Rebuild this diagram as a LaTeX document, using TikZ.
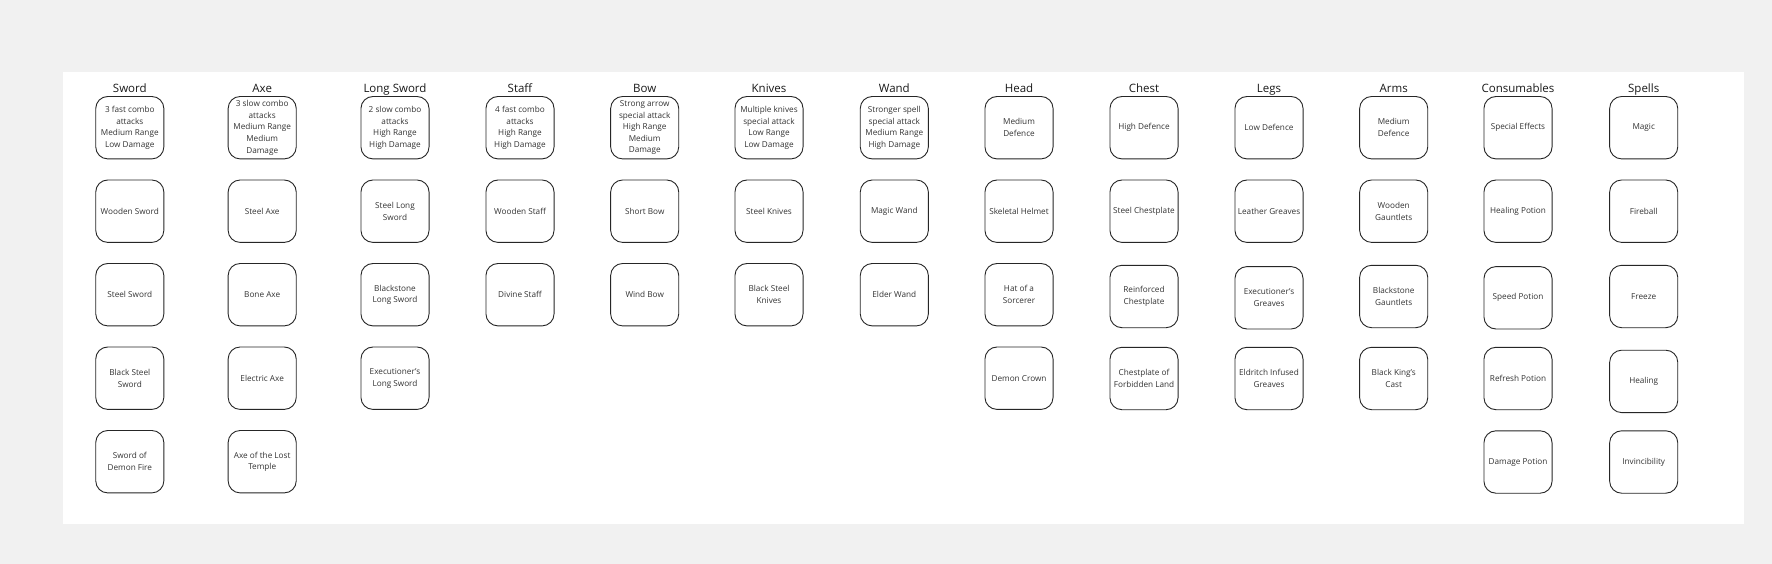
\documentclass[tikz,border=0pt]{standalone}
\usepackage{fontspec}
\setmainfont{Open Sans}
\usetikzlibrary{positioning}
\definecolor{bggray}{HTML}{F1F1F1}
\definecolor{inkgray}{HTML}{333333}
\tikzset{item/.style={draw=black!85,line width=0.9pt,rounded corners=12pt,
		minimum width=68.1pt,minimum height=62.4pt,inner sep=1pt,align=center,
		font=\fontsize{8.2}{11.6}\selectfont,text=inkgray},
	heading/.style={font=\fontsize{11.5}{13}\selectfont,text=black!90,inner sep=0pt}}

\begin{document}
\begin{tikzpicture}[x=1pt,y=-1pt,node distance=20.2pt]
			\fill[bggray] (0,0) rectangle (1772,564);
			\fill[white] (63,72) rectangle (1744,524);
			% first row
			\node[item] (sw1) at (129.8,127.7) {3 fast combo\\attacks\\Medium Range\\Low Damage};
			\node[item] (ax1) at (262.2,127.7) {3 slow combo\\attacks\\Medium Range\\Medium\\Damage};
			\node[item] (ls1) at (395,127.7) {2 slow combo\\attacks\\High Range\\High Damage};
			\node[item] (st1) at (520,127.7) {4 fast combo\\attacks\\High Range\\High Damage};
			\node[item] (bw1) at (644.7,127.7) {Strong arrow\\special attack\\High Range\\Medium\\Damage};
			\node[item] (kn1) at (769,127.7) {Multiple knives\\special attack\\Low Range\\Low Damage};
			\node[item] (wd1) at (894.3,127.7) {Stronger spell\\special attack\\Medium Range\\High Damage};
			\node[item] (hd1) at (1019,127.7) {Medium\\Defence};
			\node[item] (ch1) at (1144,127.7) {High Defence};
			\node[item] (lg1) at (1269,127.7) {Low Defence};
			\node[item] (am1) at (1393.7,127.7) {Medium\\Defence};
			\node[item] (cs1) at (1518,127.7) {Special Effects};
			\node[item] (sp1) at (1643.7,127.7) {Magic};
			% headings
			\node[heading,above=4pt of sw1,anchor=base] {Sword};
			\node[heading,above=4pt of ax1,anchor=base] {Axe};
			\node[heading,above=4pt of ls1,anchor=base] {Long Sword};
			\node[heading,above=4pt of st1,anchor=base] {Staff};
			\node[heading,above=4pt of bw1,anchor=base] {Bow};
			\node[heading,above=4pt of kn1,anchor=base] {Knives};
			\node[heading,above=4pt of wd1,anchor=base] {Wand};
			\node[heading,above=4pt of hd1,anchor=base] {Head};
			\node[heading,above=4pt of ch1,anchor=base] {Chest};
			\node[heading,above=4pt of lg1,anchor=base] {Legs};
			\node[heading,above=4pt of am1,anchor=base] {Arms};
			\node[heading,above=4pt of cs1,anchor=base] {Consumables};
			\node[heading,above=4pt of sp1,anchor=base] {Spells};
			% Sword
			\node[item] (sw2) [below=of sw1] {Wooden Sword};
			\node[item] (sw3) [below=of sw2] {Steel Sword};
			\node[item] (sw4) [below=of sw3] {Black Steel\\Sword};
			\node[item] (sw5) [below=of sw4] {Sword of\\Demon Fire};
			% Axe
			\node[item] (ax2) [below=of ax1] {Steel Axe};
			\node[item] (ax3) [below=of ax2] {Bone Axe};
			\node[item] (ax4) [below=of ax3] {Electric Axe};
			\node[item] (ax5) [below=of ax4] {Axe of the Lost\\Temple};
			% Long Sword
			\node[item] (ls2) [below=of ls1] {Steel Long\\Sword};
			\node[item] (ls3) [below=of ls2] {Blackstone\\Long Sword};
			\node[item] (ls4) [below=of ls3] {Executioner's\\Long Sword};
			% Staff, Bow, Knives, Wand
			\node[item] (st2) [below=of st1] {Wooden Staff};
			\node[item] (st3) [below=of st2] {Divine Staff};
			\node[item] (bw2) [below=of bw1] {Short Bow};
			\node[item] (bw3) [below=of bw2] {Wind Bow};
			\node[item] (kn2) [below=of kn1] {Steel Knives};
			\node[item] (kn3) [below=of kn2] {Black Steel\\Knives};
			\node[item] (wd2) [below=of wd1] {Magic Wand};
			\node[item] (wd3) [below=of wd2] {Elder Wand};
			% Head
			\node[item] (hd2) [below=of hd1] {Skeletal Helmet};
			\node[item] (hd3) [below=of hd2] {Hat of a\\Sorcerer};
			\node[item] (hd4) [below=of hd3] {Demon Crown};
			% Chest
			\node[item] (ch2) [below=of ch1] {Steel Chestplate};
			\node[item] (ch3) [below=22pt of ch2] {Reinforced\\Chestplate};
			\node[item] (ch4) [below=18.7pt of ch3] {Chestplate of\\Forbidden Land};
			% Legs
			\node[item] (lg2) [below=of lg1] {Leather Greaves};
			\node[item] (lg3) [below=23.3pt of lg2] {Executioner's\\Greaves};
			\node[item] (lg4) [below=17.4pt of lg3] {Eldritch Infused\\Greaves};
			% Arms
			\node[item] (am2) [below=of am1] {Wooden\\Gauntlets};
			\node[item] (am3) [below=22pt of am2] {Blackstone\\Gauntlets};
			\node[item] (am4) [below=18.7pt of am3] {Black King's\\Cast};
			% Consumables
			\node[item] (cs2) [below=of cs1] {Healing Potion};
			\node[item] (cs3) [below=23.3pt of cs2] {Speed Potion};
			\node[item] (cs4) [below=17.4pt of cs3] {Refresh Potion};
			\node[item] (cs5) [below=of cs4] {Damage Potion};
			% Spells
			\node[item] (sp2) [below=of sp1] {Fireball};
			\node[item] (sp3) [below=22pt of sp2] {Freeze};
			\node[item] (sp4) [below=21.6pt of sp3] {Healing};
			\node[item] (sp5) [below=17.3pt of sp4] {Invincibility};
		\end{tikzpicture}
\end{document}
